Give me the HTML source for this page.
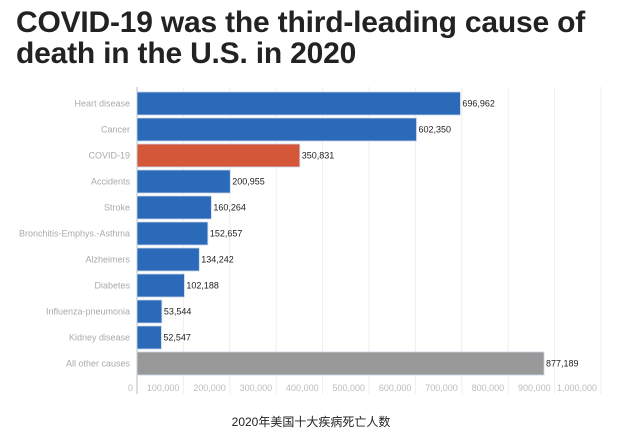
<!DOCTYPE html>
<html><head><meta charset="utf-8">
<style>
body{margin:0;background:#fff;width:627px;height:440px;overflow:hidden;font-family:"Liberation Sans",Arial,sans-serif}
h1{position:absolute;left:16px;top:7px;margin:0;font-size:30px;line-height:31px;font-weight:bold;color:#222;letter-spacing:-0.2px}
#cap{position:absolute;left:211px;width:200px;top:413px;text-align:center;font-size:12px;color:#222;font-family:"Liberation Sans","Noto Sans CJK SC",sans-serif}
svg{position:absolute;left:0;top:0}
</style></head><body>
<h1>COVID-19 was the third-leading cause of<br>death in the U.S. in 2020</h1>
<svg id="c" width="627" height="440"></svg>
<div id="cap">2020年美国十大疾病死亡人数</div>
<script>
const categories=["Heart disease","Cancer","COVID-19","Accidents","Stroke","Bronchitis-Emphys.-Asthma","Alzheimers","Diabetes","Influenza-pneumonia","Kidney disease","All other causes"];
const values=[696962,602350,350831,200955,160264,152657,134242,102188,53544,52547,877189];
const tickValues=[0,100000,200000,300000,400000,500000,600000,700000,800000,900000,1000000];
const tickLabels=["0","100,000","200,000","300,000","400,000","500,000","600,000","700,000","800,000","900,000","1,000,000"];
const ns="http://www.w3.org/2000/svg",svgEl=document.getElementById('c');
const x0=137,x1=601,plotTop=89,pitch=26,bh=23,axisY=382;
const xs=v=>x0+(v/1000000)*(x1-x0);
const yb=i=>plotTop+3+i*pitch;
function mk(t,a){const e=document.createElementNS(ns,t);for(const k in a)e.setAttribute(k,a[k]);svgEl.appendChild(e);return e;}
tickValues.forEach((v,i)=>{
  const g=mk('line',{x1:xs(v),x2:xs(v),y1:plotTop-2,y2:axisY+12,stroke:i==0?'#bbb':'#eee','stroke-width':1});
  
  
  const t=mk('text',{x:xs(v)-4,y:axisY+9,'text-anchor':'end','font-size':9,fill:'#bbb'});
  t.textContent=tickLabels[i];
  
  
});
categories.forEach((c,i)=>{
  const y=yb(i);
  const col=c=="COVID-19"?'#d4573a':(c=="All other causes"?'#999999':'#2a6ab8');
  const r=mk('rect',{x:x0,y:y,width:xs(values[i])-x0,height:bh,fill:col,stroke:'#c9d6e8','stroke-width':0.8});
  
  
  const l=mk('text',{x:130,y:y+bh/2+3,'text-anchor':'end','font-size':9,fill:'#aaa'});
  l.textContent=c;
  
  
  const v=mk('text',{x:xs(values[i])+2,y:y+bh/2+3,'font-size':9,fill:'#222'});
  v.textContent=values[i].toLocaleString('en-US');
  
  
});
</script>
</body></html>
